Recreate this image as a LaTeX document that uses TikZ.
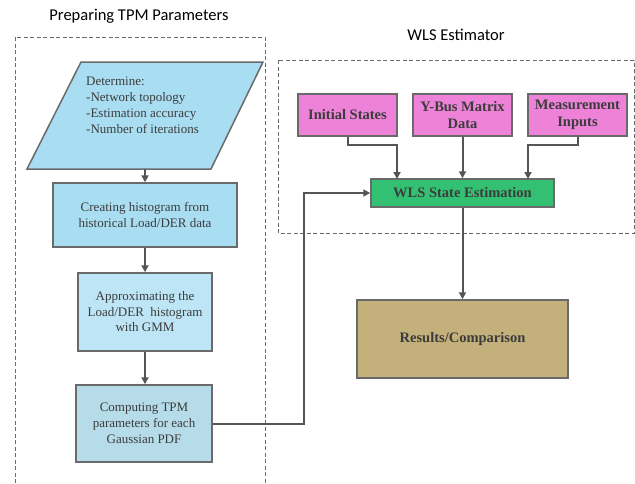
\documentclass[tikz,border=0pt]{standalone}
\usepackage{fontspec}
\setmainfont{Liberation Serif}
\newfontfamily\titlefont{Carlito}
\usetikzlibrary{arrows.meta,positioning}
\definecolor{bordergray}{HTML}{6A6A6A}
\definecolor{arrowgray}{HTML}{555555}
\definecolor{txtgray}{HTML}{3C3C3C}
\definecolor{bluea}{HTML}{A9DDF2}
\definecolor{blueb}{HTML}{BDE5F5}
\definecolor{bluec}{HTML}{B5DCE8}
\definecolor{pinkbox}{HTML}{EE82D9}
\definecolor{greenbox}{HTML}{33C072}
\definecolor{tanbox}{HTML}{C3B07A}
\tikzset{
  flowbox/.style={draw=bordergray, line width=1.5pt, inner sep=0pt, text=txtgray, align=center,
    font=\fontsize{13}{15.5}\selectfont},
  boldbox/.style={flowbox, font=\fontsize{14.5}{17}\selectfont\bfseries},
  conn/.style={draw=arrowgray, line width=2pt, -{Triangle[length=7pt,width=7pt]}},
  groupbox/.style={draw=bordergray, line width=0.9pt, dash pattern=on 4pt off 2.5pt},
  grouptitle/.style={font=\titlefont\fontsize{16.5}{18}\selectfont, text=black}
}
\begin{document}
\begin{tikzpicture}[x=1pt,y=-1pt]
\useasboundingbox (0,0) rectangle (635,483);
% group frames
\draw[groupbox] (15,483) -- (15,37) -- (265,37) -- (265,483);
\draw[groupbox] (278,60) rectangle (634,233);
\node[grouptitle] (t1) at (139,16) {Preparing TPM Parameters};
\node[grouptitle] (t2) at (456,35) {WLS Estimator};
% parallelogram
\draw[draw=bordergray, line width=1.5pt, fill=bluea] (81,62) -- (263,62) -- (211,169) -- (27,169) -- cycle;
\node[text=txtgray, align=left, anchor=north west, inner sep=0pt, font=\fontsize{13}{15.8}\selectfont] (para) at (86,77)
  {Determine:\\-Network topology\\-Estimation accuracy\\-Number of iterations};
\coordinate (parabot) at (145,169);
% left boxes
\node[flowbox, fill=bluea, minimum width=184pt, minimum height=64pt] (hist) at (145,215) {Creating histogram from\\historical Load/DER data};
\node[flowbox, fill=blueb, minimum width=134pt, minimum height=78pt] (gmm) at (145,312) {Approximating the\\Load/DER\ \ histogram\\with GMM};
\node[flowbox, fill=bluec, minimum width=136pt, minimum height=77pt, font=\fontsize{13}{16}\selectfont] (tpm) at (144,423.5) {Computing TPM\\parameters for each\\Gaussian PDF};
% right boxes
\node[boldbox, fill=pinkbox, minimum width=99pt, minimum height=42pt] (init) at (347.5,115) {Initial States};
\node[boldbox, fill=pinkbox, minimum width=99pt, minimum height=42pt] (ybus) at (462.5,115) {Y-Bus Matrix\\Data};
\node[boldbox, fill=pinkbox, minimum width=99pt, minimum height=42pt] (meas) at (577.5,115) {Measurement\\Inputs};
\node[boldbox, fill=greenbox, minimum width=183pt, minimum height=28pt] (wls) at (462.5,193) {WLS State Estimation};
\node[boldbox, fill=tanbox, minimum width=211pt, minimum height=78pt] (res) at (462.5,339) {Results/Comparison};
% connectors
\draw[conn] (parabot) -- (hist.north -| parabot);
\draw[conn] (hist.south) -- (gmm.north);
\draw[conn] (gmm.south) -- (gmm.south |- tpm.north);
\draw[conn] (tpm.east) -- (304,423.5) -- (304,193) -- (wls.west);
\draw[conn] (init.south) -- (347.5,145) -- (397,145) -- (397,179);
\draw[conn] (ybus.south) -- (wls.north);
\draw[conn] (meas.south) -- (577.5,145) -- (528,145) -- (528,179);
\draw[conn] (wls.south) -- (res.north);
\end{tikzpicture}
\end{document}
